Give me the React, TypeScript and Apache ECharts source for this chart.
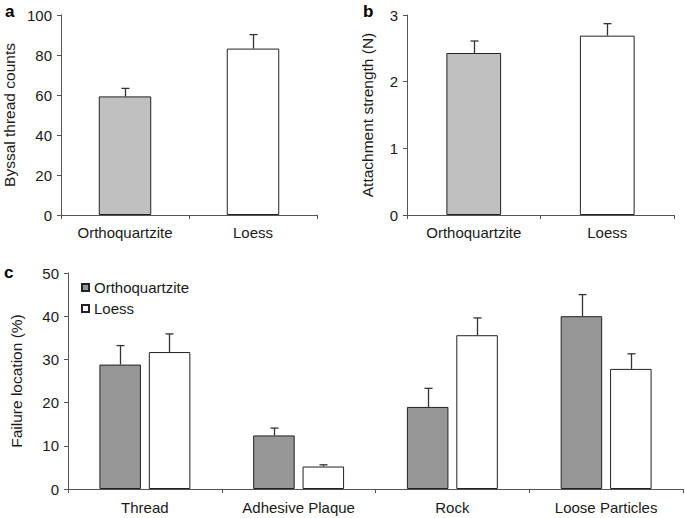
import React, { useEffect, useRef } from "react";
import * as echarts from "echarts";

const categoriesAB = ["Orthoquartzite", "Loess"];
const threadCounts = [59.3, 83.2];
const threadCountsErr = [4.0, 7.0];
const attachStrength = [2.43, 2.69];
const attachStrengthErr = [0.18, 0.18];

const failureCats = ["Thread", "Adhesive Plaque", "Rock", "Loose Particles"];
const failOrtho = [28.8, 12.4, 19.0, 40.0];
const failOrthoErr = [4.4, 1.7, 4.3, 5.0];
const failLoess = [31.7, 5.2, 35.6, 27.8];
const failLoessErr = [4.2, 0.4, 4.0, 3.5];

const FONT = "Liberation Sans, Arial, sans-serif";
const AXIS = "#555";
const BORDER = "#222";
const TEXT = "#1a1a1a";

function errRender(offsetFrac: number) {
  return (params: any, api: any) => {
    const idx = api.value(0);
    const v = api.value(1);
    const e = api.value(2);
    const base = api.coord([idx, v]);
    const top = api.coord([idx, v + e]);
    const bw = api.size([1, 0])[0];
    const cx = Math.round(base[0] + offsetFrac * bw) + 0.5;
    const cap = 4;
    const st = { stroke: "#333", lineWidth: 1.3 };
    return {
      type: "group",
      children: [
        { type: "line", shape: { x1: cx, y1: base[1], x2: cx, y2: top[1] }, style: st },
        { type: "line", shape: { x1: cx - cap, y1: top[1], x2: cx + cap, y2: top[1] }, style: st },
      ],
    };
  };
}

function catAxis(gridIndex: number, data: string[], margin: number) {
  return {
    type: "category",
    gridIndex,
    data,
    axisLine: { lineStyle: { color: AXIS, width: 1 } },
    axisTick: { show: true, alignWithLabel: false, length: 4, lineStyle: { color: AXIS } },
    axisLabel: { color: TEXT, fontSize: 15, margin, fontFamily: FONT },
  };
}

function valAxis(gridIndex: number, max: number, interval: number, name: string, nameGap: number) {
  return {
    type: "value",
    gridIndex,
    min: 0,
    max,
    interval,
    name,
    nameLocation: "middle",
    nameGap,
    nameTextStyle: { color: TEXT, fontSize: 15.5, fontFamily: FONT },
    axisLine: { show: true, lineStyle: { color: AXIS, width: 1 } },
    axisTick: { show: true, length: 4, lineStyle: { color: AXIS } },
    axisLabel: { color: TEXT, fontSize: 15, margin: 9, fontFamily: FONT },
    splitLine: { show: false },
  };
}

export default function App() {
  const ref = useRef<HTMLDivElement>(null);
  useEffect(() => {
    if (!ref.current) return;
    const chart = echarts.init(ref.current, undefined, { renderer: "svg" });
    const abColors = ["#c0c0c0", "#ffffff"];
    const option: any = {
      animation: false,
      backgroundColor: "#ffffff",
      textStyle: { fontFamily: FONT },
      grid: [
        { left: 60, top: 15, right: 368, bottom: 303 },
        { left: 407, top: 15, right: 11, bottom: 303 },
        { left: 60, top: 273, right: 2, bottom: 29 },
      ],
      xAxis: [
        catAxis(0, categoriesAB, 10),
        catAxis(1, categoriesAB, 10),
        catAxis(2, failureCats, 11),
      ],
      yAxis: [
        valAxis(0, 100, 20, "Byssal thread counts", 44),
        valAxis(1, 3, 1, "Attachment strength (N)", 32),
        valAxis(2, 50, 10, "Failure location (%)", 44),
      ],
      legend: {
        data: ["Orthoquartzite", "Loess"],
        orient: "vertical",
        left: 76,
        top: 275,
        icon: "rect",
        itemWidth: 7,
        itemHeight: 7,
        itemGap: 6,
        textStyle: { color: TEXT, fontSize: 15, fontFamily: FONT, lineHeight: 15 },
      },
      graphic: [
        { type: "text", left: 5, top: 3, style: { text: "a", fontSize: 17, fontWeight: "bold", fill: "#000", fontFamily: FONT } },
        { type: "text", left: 363, top: 3, style: { text: "b", fontSize: 17, fontWeight: "bold", fill: "#000", fontFamily: FONT } },
        { type: "text", left: 4, top: 264, style: { text: "c", fontSize: 17, fontWeight: "bold", fill: "#000", fontFamily: FONT } },
      ],
      series: [
        {
          name: "Byssal thread counts",
          type: "bar",
          xAxisIndex: 0,
          yAxisIndex: 0,
          barWidth: "41%",
          data: threadCounts.map((v, i) => ({ value: v, itemStyle: { color: abColors[i] } })),
          itemStyle: { borderColor: BORDER, borderWidth: 1 },
        },
        {
          name: "errA",
          type: "custom",
          xAxisIndex: 0,
          yAxisIndex: 0,
          encode: { x: 0, y: 1 },
          data: categoriesAB.map((c, i) => [i, threadCounts[i], threadCountsErr[i]]),
          renderItem: errRender(0),
          z: 3,
        },
        {
          name: "Attachment strength",
          type: "bar",
          xAxisIndex: 1,
          yAxisIndex: 1,
          barWidth: "41%",
          data: attachStrength.map((v, i) => ({ value: v, itemStyle: { color: abColors[i] } })),
          itemStyle: { borderColor: BORDER, borderWidth: 1 },
        },
        {
          name: "errB",
          type: "custom",
          xAxisIndex: 1,
          yAxisIndex: 1,
          encode: { x: 0, y: 1 },
          data: categoriesAB.map((c, i) => [i, attachStrength[i], attachStrengthErr[i]]),
          renderItem: errRender(0),
          z: 3,
        },
        {
          name: "Orthoquartzite",
          type: "bar",
          xAxisIndex: 2,
          yAxisIndex: 2,
          barWidth: "27%",
          barGap: "19%",
          data: failOrtho,
          itemStyle: { color: "#969696", borderColor: BORDER, borderWidth: 1 },
        },
        {
          name: "Loess",
          type: "bar",
          xAxisIndex: 2,
          yAxisIndex: 2,
          barWidth: "27%",
          barGap: "19%",
          data: failLoess,
          itemStyle: { color: "#ffffff", borderColor: BORDER, borderWidth: 1 },
        },
        {
          name: "errC1",
          type: "custom",
          xAxisIndex: 2,
          yAxisIndex: 2,
          encode: { x: 0, y: 1 },
          data: failureCats.map((c, i) => [i, failOrtho[i], failOrthoErr[i]]),
          renderItem: errRender(-0.16),
          z: 3,
        },
        {
          name: "errC2",
          type: "custom",
          xAxisIndex: 2,
          yAxisIndex: 2,
          encode: { x: 0, y: 1 },
          data: failureCats.map((c, i) => [i, failLoess[i], failLoessErr[i]]),
          renderItem: errRender(0.16),
          z: 3,
        },
      ],
    };
    chart.setOption(option);
    return () => chart.dispose();
  }, []);
  return (
    <div
      ref={ref}
      style={{ position: "absolute", left: 0, top: 0, width: 685, height: 518 }}
    />
  );
}
